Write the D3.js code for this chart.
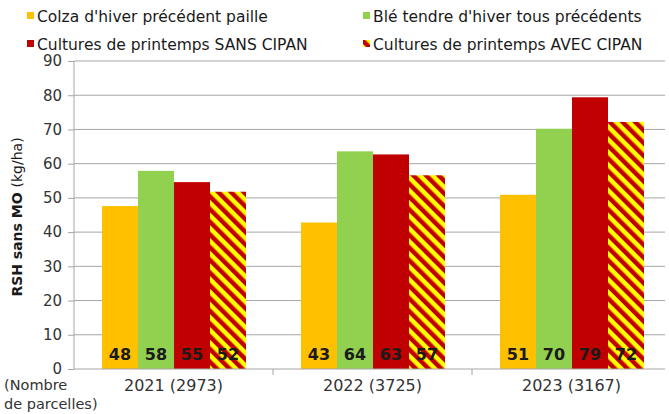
<!DOCTYPE html>
<html>
<head>
<meta charset="utf-8">
<script src="https://cdn.jsdelivr.net/npm/d3@7"></script>
<style>
	body { margin: 0; background: #fff; }
	svg { font-family: "DejaVu Sans", Verdana, sans-serif; }
</style>
</head>
<body>
<div id="chart"></div>
<script>
	var categories = ['2021 (2973)', '2022 (3725)', '2023 (3167)'];
	var seriesNames = [
		'Colza d\'hiver précédent paille',
		'Blé tendre d\'hiver tous précédents',
		'Cultures de printemps SANS CIPAN',
		'Cultures de printemps AVEC CIPAN'
	];
	var colza = [47.6, 42.8, 50.9];
	var ble = [57.9, 63.6, 70.2];
	var sansCipan = [54.6, 62.7, 79.4];
	var avecCipan = [51.8, 56.6, 72.2];
	var yTicks = [0, 10, 20, 30, 40, 50, 60, 70, 80, 90];

	var series = [colza, ble, sansCipan, avecCipan];
	var fills = ['#FFC000', '#92D050', '#C00000', 'url(#hatch)'];

	var W = 669, H = 414;
	var svg = d3.select('#chart').append('svg').attr('width', W).attr('height', H);

	// hatch pattern for AVEC CIPAN
	var pat = svg.append('defs').append('pattern')
		.attr('id', 'hatch').attr('patternUnits', 'userSpaceOnUse')
		.attr('width', 9).attr('height', 9)
		.attr('patternTransform', 'rotate(-45)');
	pat.append('rect').attr('width', 9).attr('height', 9).attr('fill', '#FFFF00');
	pat.append('rect').attr('width', 4.5).attr('height', 9).attr('fill', '#C00000');

	var x0 = 74, x1 = 671, yTop = 61, yBot = 369;
	var x = d3.scaleBand().domain(categories).range([x0, x1]);
	var xi = d3.scaleBand().domain(d3.range(4)).range([28, x.bandwidth() - 27]);
	var y = d3.scaleLinear().domain([0, 90]).range([yBot, yTop]);

	// gridlines
	svg.append('g').selectAll('line').data(yTicks.slice(1)).enter().append('line')
		.attr('x1', x0).attr('x2', 665)
		.attr('y1', function(d) { return y(d); }).attr('y2', function(d) { return y(d); })
		.attr('stroke', '#a6a6a6').attr('stroke-width', 1);

	// bars
	var groups = svg.append('g').selectAll('g').data(categories).enter().append('g')
		.attr('transform', function(d) { return 'translate(' + x(d) + ',0)'; });
	groups.each(function(c, ci) {
		var g = d3.select(this);
		series.forEach(function(s, si) {
			g.append('rect')
				.attr('x', xi(si)).attr('width', xi.bandwidth())
				.attr('y', y(s[ci])).attr('height', yBot - y(s[ci]))
				.attr('fill', fills[si]);
			g.append('text')
				.attr('x', xi(si) + xi.bandwidth() / 2).attr('y', 360)
				.attr('text-anchor', 'middle')
				.attr('font-size', 16).attr('font-weight', 'bold')
				.attr('fill', '#1a1a1a')
				.text(Math.round(s[ci]));
		});
	});

	// y axis
	var yAxis = svg.append('g').attr('transform', 'translate(' + x0 + ',0)')
		.call(d3.axisLeft(y).tickValues(yTicks).tickSize(6).tickPadding(6));
	yAxis.select('.domain').attr('stroke', '#a6a6a6').attr('d', 'M0,' + yTop + 'V' + yBot);
	yAxis.selectAll('.tick line').attr('stroke', '#a6a6a6');
	yAxis.selectAll('.tick text').attr('font-size', 15).attr('fill', '#333')
		.attr('font-family', '"DejaVu Sans", Verdana, sans-serif');

	// x axis
	var xAxis = svg.append('g').attr('transform', 'translate(0,' + yBot + ')')
		.call(d3.axisBottom(x).tickSize(0).tickPadding(11));
	xAxis.select('.domain').attr('stroke', '#a6a6a6').attr('d', 'M' + x0 + ',0H665');
	xAxis.selectAll('.tick text').attr('font-size', 16).attr('fill', '#333')
		.attr('font-family', '"DejaVu Sans", Verdana, sans-serif');
	// category separators
	svg.append('g').selectAll('line').data(categories.slice(1)).enter().append('line')
		.attr('x1', function(d) { return x(d); }).attr('x2', function(d) { return x(d); })
		.attr('y1', yBot).attr('y2', yBot + 6)
		.attr('stroke', '#a6a6a6');

	// axis title
	var yt = svg.append('text')
		.attr('transform', 'translate(22,' + ((yTop + yBot) / 2 + 2) + ') rotate(-90)')
		.attr('text-anchor', 'middle').attr('font-size', 14).attr('fill', '#1a1a1a');
	yt.append('tspan').attr('font-weight', 'bold').text('RSH sans MO ');
	yt.append('tspan').text('(kg/ha)');

	svg.append('text').attr('x', 4).attr('y', 390).attr('font-size', 14.5).attr('fill', '#333').text('(Nombre');
	svg.append('text').attr('x', 4).attr('y', 409).attr('font-size', 14.5).attr('fill', '#333').text('de parcelles)');

	// legend
	var legPos = [[27, 16], [363, 16], [27, 44], [363, 44]];
	var leg = svg.append('g').selectAll('g').data(seriesNames).enter().append('g')
		.attr('transform', function(d, i) { return 'translate(' + legPos[i][0] + ',' + legPos[i][1] + ')'; });
	leg.append('rect').attr('x', 0).attr('y', -4).attr('width', 7).attr('height', 7)
		.attr('fill', function(d, i) { return fills[i]; });
	leg.append('text').attr('x', 10).attr('y', 5.5).attr('font-size', 15.5).attr('fill', '#1a1a1a')
		.text(function(d) { return d; });
</script>
</body>
</html>
